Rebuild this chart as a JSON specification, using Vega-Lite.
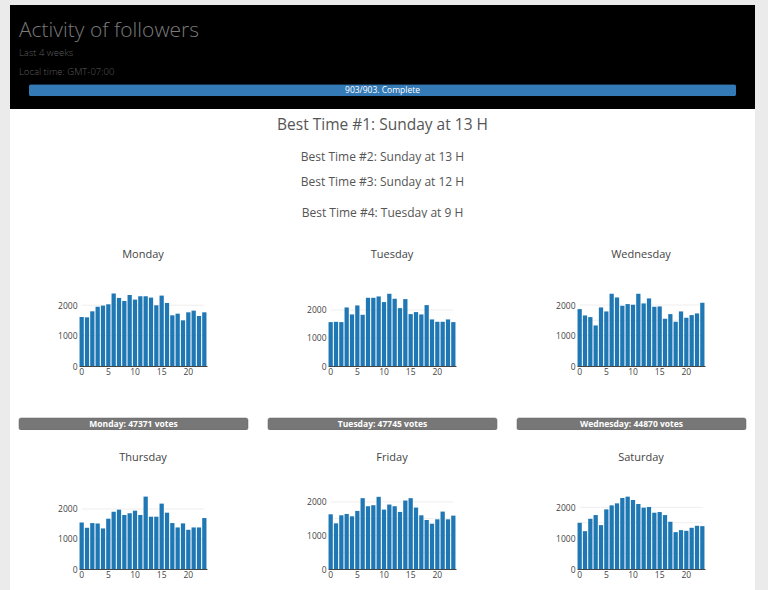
{
  "$schema": "https://vega.github.io/schema/vega-lite/v6.json",
  "background": "#ebebeb",
  "padding": {"left": 10, "top": 5, "right": 13, "bottom": 0},
  "bounds": "flush",
  "spacing": 0,
  "config": {
    "font": "Open Sans",
    "view": {"stroke": null},
    "axis": {"labelFont": "Open Sans", "labelFontSize": 8.5, "labelColor": "#444", "ticks": false, "domain": false, "grid": false},
    "axisX": {"domain": true, "domainColor": "#444", "domainWidth": 1, "labelAngle": 0, "labelPadding": 1},
    "axisY": {"labelPadding": 2}
  },
  "datasets": {
    "header": [
      {"line": 1, "text": "Activity of followers"},
      {"line": 2, "text": "Last 4 weeks"},
      {"line": 3, "text": "Local time: GMT-07:00"}
    ],
    "progress": [{"done": 903, "total": 903, "label": "903/903. Complete"}],
    "best": [
      {"rank": 1, "text": "Best Time #1: Sunday at 13 H"},
      {"rank": 2, "text": "Best Time #2: Sunday at 13 H"},
      {"rank": 3, "text": "Best Time #3: Sunday at 12 H"},
      {"rank": 4, "text": "Best Time #4: Tuesday at 9 H"}
    ],
    "votes": [
      {"day": "Monday", "votes": 47371, "label": "Monday: 47371 votes"},
      {"day": "Tuesday", "votes": 47745, "label": "Tuesday: 47745 votes"},
      {"day": "Wednesday", "votes": 44870, "label": "Wednesday: 44870 votes"}
    ],
    "activity": [
      {"day":"Monday","hour":0,"count":1612},{"day":"Monday","hour":1,"count":1601},{"day":"Monday","hour":2,"count":1799},{"day":"Monday","hour":3,"count":1953},{"day":"Monday","hour":4,"count":1986},{"day":"Monday","hour":5,"count":2030},{"day":"Monday","hour":6,"count":2382},{"day":"Monday","hour":7,"count":2239},{"day":"Monday","hour":8,"count":2140},{"day":"Monday","hour":9,"count":2338},{"day":"Monday","hour":10,"count":2184},{"day":"Monday","hour":11,"count":2294},{"day":"Monday","hour":12,"count":2294},{"day":"Monday","hour":13,"count":2250},{"day":"Monday","hour":14,"count":1997},{"day":"Monday","hour":15,"count":2316},{"day":"Monday","hour":16,"count":2074},{"day":"Monday","hour":17,"count":1667},{"day":"Monday","hour":18,"count":1722},{"day":"Monday","hour":19,"count":1503},{"day":"Monday","hour":20,"count":1766},{"day":"Monday","hour":21,"count":1821},{"day":"Monday","hour":22,"count":1645},{"day":"Monday","hour":23,"count":1766},
      {"day":"Tuesday","hour":0,"count":1567},{"day":"Tuesday","hour":1,"count":1579},{"day":"Tuesday","hour":2,"count":1567},{"day":"Tuesday","hour":3,"count":2091},{"day":"Tuesday","hour":4,"count":1841},{"day":"Tuesday","hour":5,"count":2163},{"day":"Tuesday","hour":6,"count":1829},{"day":"Tuesday","hour":7,"count":2436},{"day":"Tuesday","hour":8,"count":2436},{"day":"Tuesday","hour":9,"count":2484},{"day":"Tuesday","hour":10,"count":2282},{"day":"Tuesday","hour":11,"count":2579},{"day":"Tuesday","hour":12,"count":2401},{"day":"Tuesday","hour":13,"count":2067},{"day":"Tuesday","hour":14,"count":2389},{"day":"Tuesday","hour":15,"count":1853},{"day":"Tuesday","hour":16,"count":1925},{"day":"Tuesday","hour":17,"count":1841},{"day":"Tuesday","hour":18,"count":2175},{"day":"Tuesday","hour":19,"count":1663},{"day":"Tuesday","hour":20,"count":1579},{"day":"Tuesday","hour":21,"count":1579},{"day":"Tuesday","hour":22,"count":1663},{"day":"Tuesday","hour":23,"count":1567},
      {"day":"Wednesday","hour":0,"count":1866},{"day":"Wednesday","hour":1,"count":1658},{"day":"Wednesday","hour":2,"count":1604},{"day":"Wednesday","hour":3,"count":1330},{"day":"Wednesday","hour":4,"count":1920},{"day":"Wednesday","hour":5,"count":1789},{"day":"Wednesday","hour":6,"count":2369},{"day":"Wednesday","hour":7,"count":2248},{"day":"Wednesday","hour":8,"count":1975},{"day":"Wednesday","hour":9,"count":2030},{"day":"Wednesday","hour":10,"count":2008},{"day":"Wednesday","hour":11,"count":2369},{"day":"Wednesday","hour":12,"count":2052},{"day":"Wednesday","hour":13,"count":2216},{"day":"Wednesday","hour":14,"count":1942},{"day":"Wednesday","hour":15,"count":1953},{"day":"Wednesday","hour":16,"count":1549},{"day":"Wednesday","hour":17,"count":1702},{"day":"Wednesday","hour":18,"count":1451},{"day":"Wednesday","hour":19,"count":1789},{"day":"Wednesday","hour":20,"count":1582},{"day":"Wednesday","hour":21,"count":1669},{"day":"Wednesday","hour":22,"count":1724},{"day":"Wednesday","hour":23,"count":2074},
      {"day":"Thursday","hour":0,"count":1553},{"day":"Thursday","hour":1,"count":1374},{"day":"Thursday","hour":2,"count":1531},{"day":"Thursday","hour":3,"count":1520},{"day":"Thursday","hour":4,"count":1352},{"day":"Thursday","hour":5,"count":1676},{"day":"Thursday","hour":6,"count":1911},{"day":"Thursday","hour":7,"count":1978},{"day":"Thursday","hour":8,"count":1799},{"day":"Thursday","hour":9,"count":1855},{"day":"Thursday","hour":10,"count":1944},{"day":"Thursday","hour":11,"count":1799},{"day":"Thursday","hour":12,"count":2413},{"day":"Thursday","hour":13,"count":1743},{"day":"Thursday","hour":14,"count":1743},{"day":"Thursday","hour":15,"count":2179},{"day":"Thursday","hour":16,"count":1877},{"day":"Thursday","hour":17,"count":1531},{"day":"Thursday","hour":18,"count":1385},{"day":"Thursday","hour":19,"count":1520},{"day":"Thursday","hour":20,"count":1307},{"day":"Thursday","hour":21,"count":1385},{"day":"Thursday","hour":22,"count":1385},{"day":"Thursday","hour":23,"count":1698},
      {"day":"Friday","hour":0,"count":1630},{"day":"Friday","hour":1,"count":1360},{"day":"Friday","hour":2,"count":1600},{"day":"Friday","hour":3,"count":1640},{"day":"Friday","hour":4,"count":1570},{"day":"Friday","hour":5,"count":1730},{"day":"Friday","hour":6,"count":2110},{"day":"Friday","hour":7,"count":1870},{"day":"Friday","hour":8,"count":1900},{"day":"Friday","hour":9,"count":2150},{"day":"Friday","hour":10,"count":1770},{"day":"Friday","hour":11,"count":1920},{"day":"Friday","hour":12,"count":1870},{"day":"Friday","hour":13,"count":1700},{"day":"Friday","hour":14,"count":2040},{"day":"Friday","hour":15,"count":2110},{"day":"Friday","hour":16,"count":1830},{"day":"Friday","hour":17,"count":1600},{"day":"Friday","hour":18,"count":1460},{"day":"Friday","hour":19,"count":1350},{"day":"Friday","hour":20,"count":1480},{"day":"Friday","hour":21,"count":1710},{"day":"Friday","hour":22,"count":1480},{"day":"Friday","hour":23,"count":1590},
      {"day":"Saturday","hour":0,"count":1500},{"day":"Saturday","hour":1,"count":1228},{"day":"Saturday","hour":2,"count":1630},{"day":"Saturday","hour":3,"count":1750},{"day":"Saturday","hour":4,"count":1424},{"day":"Saturday","hour":5,"count":1935},{"day":"Saturday","hour":6,"count":2065},{"day":"Saturday","hour":7,"count":2130},{"day":"Saturday","hour":8,"count":2304},{"day":"Saturday","hour":9,"count":2348},{"day":"Saturday","hour":10,"count":2239},{"day":"Saturday","hour":11,"count":2109},{"day":"Saturday","hour":12,"count":1989},{"day":"Saturday","hour":13,"count":2011},{"day":"Saturday","hour":14,"count":1826},{"day":"Saturday","hour":15,"count":1848},{"day":"Saturday","hour":16,"count":1750},{"day":"Saturday","hour":17,"count":1533},{"day":"Saturday","hour":18,"count":1196},{"day":"Saturday","hour":19,"count":1261},{"day":"Saturday","hour":20,"count":1239},{"day":"Saturday","hour":21,"count":1337},{"day":"Saturday","hour":22,"count":1402},{"day":"Saturday","hour":23,"count":1391}
    ]
  },
  "vconcat": [
    {
      "width": 745, "height": 104,
      "view": {"fill": "black", "stroke": null},
      "layer": [
        {
          "data": {"name": "header"},
          "mark": {"type": "text", "align": "left", "baseline": "middle", "dx": -10, "fontWeight": 300},
          "encoding": {
            "x": {"datum": 0, "type": "quantitative", "scale": {"domain": [0, 903], "range": [19, 726], "nice": false, "zero": false}, "axis": null},
            "y": {"field": "line", "type": "quantitative", "scale": {"domain": [1, 2, 3, 4], "range": [21, 48, 67, 90], "nice": false, "zero": false}, "axis": null},
            "text": {"field": "text"},
            "size": {"condition": {"test": "datum.line === 1", "value": 21}, "value": 9.5},
            "color": {"condition": {"test": "datum.line === 1", "value": "#7a7a7a"}, "value": "#5c5c5c"}
          }
        },
        {
          "data": {"name": "progress"},
          "mark": {"type": "bar", "orient": "horizontal", "height": 12, "color": "#337ab7", "cornerRadius": 2},
          "encoding": {
            "x": {"field": "done", "type": "quantitative", "axis": null},
            "y": {"datum": 4, "type": "quantitative", "axis": null}
          }
        },
        {
          "data": {"name": "progress"},
          "mark": {"type": "text", "color": "white", "fontSize": 8.5, "baseline": "middle"},
          "encoding": {
            "x": {"datum": 451.5, "type": "quantitative", "axis": null},
            "y": {"datum": 4, "type": "quantitative", "axis": null},
            "text": {"field": "label"}
          }
        }
      ]
    },
    {
      "width": 745, "height": 109,
      "view": {"fill": "white", "stroke": null},
      "data": {"name": "best"},
      "mark": {"type": "text", "color": "#555555", "baseline": "middle"},
      "encoding": {
        "y": {"field": "rank", "type": "quantitative", "scale": {"domain": [1, 2, 3, 4], "range": [16, 48, 73, 104], "nice": false, "zero": false}, "axis": null},
        "text": {"field": "text"},
        "size": {"condition": {"test": "datum.rank === 1", "value": 15.5}, "value": 12}
      }
    },
    {
      "width": 745, "height": 72,
      "view": {"fill": "white", "stroke": null},
      "data": {"values": [{"day": "Monday"}, {"day": "Tuesday"}, {"day": "Wednesday"}]},
      "mark": {"type": "text", "fontSize": 11, "color": "#444444", "baseline": "middle", "dy": 1},
      "encoding": {
        "x": {"field": "day", "type": "nominal", "sort": null, "scale": {"type": "point", "range": [133, 631], "padding": 0}, "axis": null},
        "text": {"field": "day"}
      }
    },
    {
      "width": 745, "height": 128,
      "view": {"fill": "white", "stroke": null},
      "resolve": {"scale": {"x": "independent", "y": "independent"}, "axis": {"x": "independent", "y": "independent"}},
      "layer": [
        {
          "layer": [
            {"data": {"values": [{"tick": 1000}, {"tick": 2000}]}, "mark": {"type": "rule", "color": "#eeeeee"},
             "encoding": {"y": {"field": "tick", "type": "quantitative", "title": null}, "x": {"datum": 0, "type": "ordinal"}, "x2": {"datum": 23}}},
            {"data": {"name": "activity"}, "transform": [{"filter": "datum.day === 'Monday'"}], "mark": {"type": "bar", "color": "#1f77b4"},
             "encoding": {
               "x": {"field": "hour", "type": "ordinal", "title": null, "scale": {"range": [69, 197], "paddingInner": 0.2, "paddingOuter": 0.1}, "axis": {"orient": "bottom", "offset": -52, "values": [0, 5, 10, 15, 20]}},
               "y": {"field": "count", "type": "quantitative", "title": null, "scale": {"domain": [0, 2500], "range": [76, 0], "nice": false}, "axis": {"orient": "left", "offset": -69, "values": [0, 1000, 2000], "format": "d"}}
             }}
          ]
        },
        {
          "layer": [
            {"data": {"values": [{"tick": 1000}, {"tick": 2000}]}, "mark": {"type": "rule", "color": "#eeeeee"},
             "encoding": {"y": {"field": "tick", "type": "quantitative", "title": null}, "x": {"datum": 0, "type": "ordinal"}, "x2": {"datum": 23}}},
            {"data": {"name": "activity"}, "transform": [{"filter": "datum.day === 'Tuesday'"}], "mark": {"type": "bar", "color": "#1f77b4"},
             "encoding": {
               "x": {"field": "hour", "type": "ordinal", "title": null, "scale": {"range": [318, 446], "paddingInner": 0.2, "paddingOuter": 0.1}, "axis": {"orient": "bottom", "offset": -52, "values": [0, 5, 10, 15, 20]}},
               "y": {"field": "count", "type": "quantitative", "title": null, "scale": {"domain": [0, 2714], "range": [76, 0], "nice": false}, "axis": {"orient": "left", "offset": -318, "values": [0, 1000, 2000], "format": "d"}}
             }}
          ]
        },
        {
          "layer": [
            {"data": {"values": [{"tick": 500}, {"tick": 1000}, {"tick": 1500}, {"tick": 2000}]}, "mark": {"type": "rule", "color": "#eeeeee"},
             "encoding": {"y": {"field": "tick", "type": "quantitative", "title": null}, "x": {"datum": 0, "type": "ordinal"}, "x2": {"datum": 23}}},
            {"data": {"name": "activity"}, "transform": [{"filter": "datum.day === 'Wednesday'"}], "mark": {"type": "bar", "color": "#1f77b4"},
             "encoding": {
               "x": {"field": "hour", "type": "ordinal", "title": null, "scale": {"range": [567, 695], "paddingInner": 0.2, "paddingOuter": 0.1}, "axis": {"orient": "bottom", "offset": -52, "values": [0, 5, 10, 15, 20]}},
               "y": {"field": "count", "type": "quantitative", "title": null, "scale": {"domain": [0, 2492], "range": [76, 0], "nice": false}, "axis": {"orient": "left", "offset": -567, "values": [0, 500, 1000, 1500, 2000], "format": "d"}}
             }}
          ]
        }
      ]
    },
    {
      "width": 745, "height": 12,
      "view": {"fill": "white", "stroke": null},
      "data": {"name": "votes"},
      "layer": [
        {"mark": {"type": "bar", "color": "#777777", "cornerRadius": 2, "stroke": "#666666", "strokeWidth": 0.5},
         "encoding": {"x": {"field": "day", "type": "nominal", "sort": null, "scale": {"range": [9, 736], "paddingInner": 0.0803, "paddingOuter": 0}, "axis": null}}},
        {"mark": {"type": "text", "color": "white", "fontSize": 8.5, "fontWeight": "bold", "baseline": "middle"},
         "encoding": {"x": {"field": "day", "type": "nominal", "sort": null, "axis": null}, "text": {"field": "label"}}}
      ]
    },
    {
      "width": 745, "height": 54,
      "view": {"fill": "white", "stroke": null},
      "data": {"values": [{"day": "Thursday"}, {"day": "Friday"}, {"day": "Saturday"}]},
      "mark": {"type": "text", "fontSize": 11, "color": "#444444", "baseline": "middle", "dy": 1},
      "encoding": {
        "x": {"field": "day", "type": "nominal", "sort": null, "scale": {"type": "point", "range": [133, 631], "padding": 0}, "axis": null},
        "text": {"field": "day"}
      }
    },
    {
      "width": 745, "height": 106,
      "view": {"fill": "white", "stroke": null},
      "resolve": {"scale": {"x": "independent", "y": "independent"}, "axis": {"x": "independent", "y": "independent"}},
      "layer": [
        {
          "layer": [
            {"data": {"values": [{"tick": 1000}, {"tick": 2000}]}, "mark": {"type": "rule", "color": "#eeeeee"},
             "encoding": {"y": {"field": "tick", "type": "quantitative", "title": null}, "x": {"datum": 0, "type": "ordinal"}, "x2": {"datum": 23}}},
            {"data": {"name": "activity"}, "transform": [{"filter": "datum.day === 'Thursday'"}], "mark": {"type": "bar", "color": "#1f77b4"},
             "encoding": {
               "x": {"field": "hour", "type": "ordinal", "title": null, "scale": {"range": [69, 197], "paddingInner": 0.2, "paddingOuter": 0.1}, "axis": {"orient": "bottom", "offset": -21, "values": [0, 5, 10, 15, 20]}},
               "y": {"field": "count", "type": "quantitative", "title": null, "scale": {"domain": [0, 2533], "range": [85, 9], "nice": false}, "axis": {"orient": "left", "offset": -69, "values": [0, 1000, 2000], "format": "d"}}
             }}
          ]
        },
        {
          "layer": [
            {"data": {"values": [{"tick": 500}, {"tick": 1000}, {"tick": 1500}, {"tick": 2000}]}, "mark": {"type": "rule", "color": "#eeeeee"},
             "encoding": {"y": {"field": "tick", "type": "quantitative", "title": null}, "x": {"datum": 0, "type": "ordinal"}, "x2": {"datum": 23}}},
            {"data": {"name": "activity"}, "transform": [{"filter": "datum.day === 'Friday'"}], "mark": {"type": "bar", "color": "#1f77b4"},
             "encoding": {
               "x": {"field": "hour", "type": "ordinal", "title": null, "scale": {"range": [318, 446], "paddingInner": 0.2, "paddingOuter": 0.1}, "axis": {"orient": "bottom", "offset": -21, "values": [0, 5, 10, 15, 20]}},
               "y": {"field": "count", "type": "quantitative", "title": null, "scale": {"domain": [0, 2264], "range": [85, 9], "nice": false}, "axis": {"orient": "left", "offset": -318, "values": [0, 500, 1000, 1500, 2000], "format": "d"}}
             }}
          ]
        },
        {
          "layer": [
            {"data": {"values": [{"tick": 500}, {"tick": 1000}, {"tick": 1500}, {"tick": 2000}]}, "mark": {"type": "rule", "color": "#eeeeee"},
             "encoding": {"y": {"field": "tick", "type": "quantitative", "title": null}, "x": {"datum": 0, "type": "ordinal"}, "x2": {"datum": 23}}},
            {"data": {"name": "activity"}, "transform": [{"filter": "datum.day === 'Saturday'"}], "mark": {"type": "bar", "color": "#1f77b4"},
             "encoding": {
               "x": {"field": "hour", "type": "ordinal", "title": null, "scale": {"range": [567, 695], "paddingInner": 0.2, "paddingOuter": 0.1}, "axis": {"orient": "bottom", "offset": -21, "values": [0, 5, 10, 15, 20]}},
               "y": {"field": "count", "type": "quantitative", "title": null, "scale": {"domain": [0, 2466], "range": [85, 9], "nice": false}, "axis": {"orient": "left", "offset": -567, "values": [0, 500, 1000, 1500, 2000], "format": "d"}}
             }}
          ]
        }
      ]
    }
  ]
}
